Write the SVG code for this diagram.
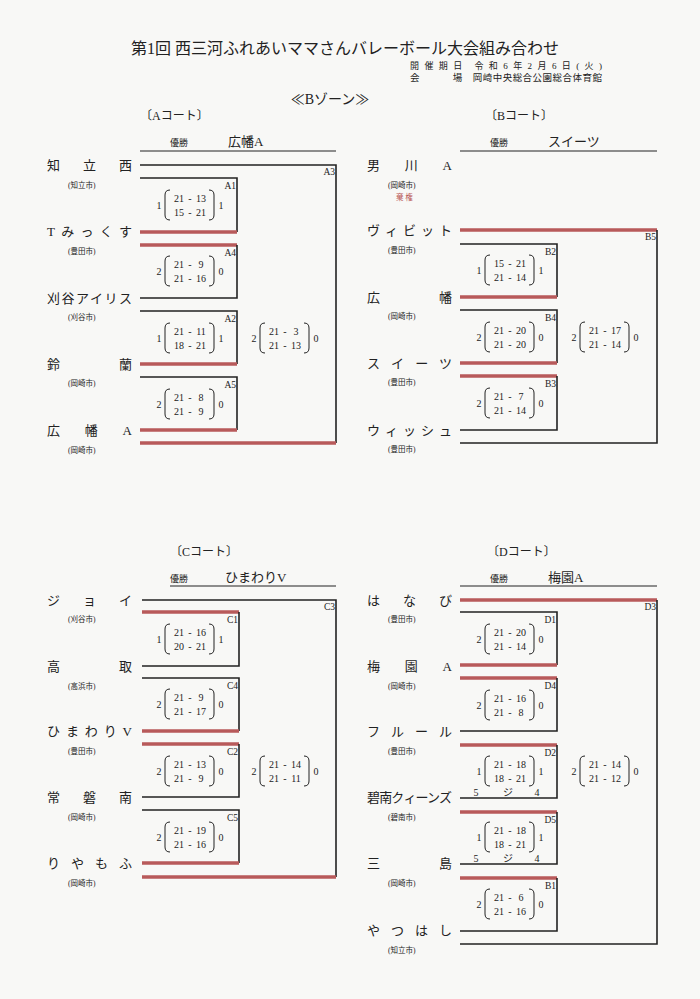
<svg xmlns="http://www.w3.org/2000/svg" width="700" height="999" viewBox="0 0 700 999">
<style>
text{font-family:"Liberation Serif","Noto Sans CJK JP",serif;fill:#222}
.nm{font-size:13px}
.ct{font-size:7.5px}
.sc{font-size:10px;text-anchor:middle}
.ml{font-size:9.5px;text-anchor:end}
.k{stroke:#222;stroke-width:1.6;fill:none}
.r{stroke:#b85a5a;stroke-width:3.5;fill:none}
.p{stroke:#222;stroke-width:1;fill:none}
</style>
<rect width="700" height="999" fill="#f8f8f6"/>
<g id="header">
<text x="345" y="54" font-size="16" text-anchor="middle">第1回  西三河ふれあいママさんバレーボール大会組み合わせ</text>
<text x="410" y="69" font-size="9" textLength="192">開 催 期 日　令 和 6 年 2 月 6 日 ( 火 )</text>
<text x="410" y="81" font-size="9.5" textLength="192">会　　　 場　岡崎中央総合公園総合体育館</text>
<text x="330" y="104" font-size="14" text-anchor="middle">≪Bゾーン≫</text>
<text x="140" y="120" font-size="12">〔Aコート〕</text>
<text x="170" y="146" font-size="9">優勝</text><text x="228" y="146" font-size="13">広幡A</text>
<line x1="140" y1="151" x2="336" y2="151" class="p"/>
<text x="485" y="120" font-size="12">〔Bコート〕</text>
<text x="490" y="146" font-size="9">優勝</text><text x="548" y="146" font-size="13">スイーツ</text>
<line x1="460" y1="151" x2="657" y2="151" class="p"/>
<text x="170" y="556" font-size="12">〔Cコート〕</text>
<text x="170" y="582" font-size="9">優勝</text><text x="225" y="582" font-size="13">ひまわりV</text>
<line x1="170" y1="586" x2="336" y2="586" class="p"/>
<text x="487" y="556" font-size="12">〔Dコート〕</text>
<text x="490" y="582" font-size="9">優勝</text><text x="548" y="582" font-size="13">梅園A</text>
<line x1="460" y1="586" x2="657" y2="586" class="p"/>
</g>
<g id="names">
<text class="nm" x="47" y="170" textLength="85">知立西</text><text class="ct" x="68" y="188">(知立市)</text>
<text class="nm" x="47" y="236" textLength="85">Tみっくす</text><text class="ct" x="68" y="254">(豊田市)</text>
<text class="nm" x="47" y="303" textLength="85">刈谷アイリス</text><text class="ct" x="68" y="320">(刈谷市)</text>
<text class="nm" x="47" y="369" textLength="85">鈴　蘭</text><text class="ct" x="68" y="386">(岡崎市)</text>
<text class="nm" x="47" y="435" textLength="85">広幡A</text><text class="ct" x="68" y="453">(岡崎市)</text>
<text class="nm" x="367" y="170" textLength="85">男川A</text><text class="ct" x="388" y="188">(岡崎市)</text><text x="396" y="200" font-size="7.5" style="fill:#b85a5a">棄 権</text>
<text class="nm" x="367" y="235" textLength="85">ヴィビット</text><text class="ct" x="388" y="253">(豊田市)</text>
<text class="nm" x="367" y="302" textLength="85">広　幡</text><text class="ct" x="388" y="319">(岡崎市)</text>
<text class="nm" x="367" y="368" textLength="85">スイーツ</text><text class="ct" x="388" y="385">(豊田市)</text>
<text class="nm" x="367" y="435" textLength="85">ウィッシュ</text><text class="ct" x="388" y="452">(豊田市)</text>
<text class="nm" x="47" y="605" textLength="85">ジョイ</text><text class="ct" x="68" y="622">(刈谷市)</text>
<text class="nm" x="47" y="671" textLength="85">高　取</text><text class="ct" x="68" y="689">(高浜市)</text>
<text class="nm" x="47" y="736" textLength="85">ひまわりV</text><text class="ct" x="68" y="754">(豊田市)</text>
<text class="nm" x="47" y="802" textLength="85">常磐南</text><text class="ct" x="68" y="820">(岡崎市)</text>
<text class="nm" x="47" y="868" textLength="85">りやもふ</text><text class="ct" x="68" y="886">(岡崎市)</text>
<text class="nm" x="367" y="605" textLength="85">はなび</text><text class="ct" x="388" y="622">(豊田市)</text>
<text class="nm" x="367" y="671" textLength="85">梅　園　A</text><text class="ct" x="388" y="689">(岡崎市)</text>
<text class="nm" x="367" y="736" textLength="85">フルール</text><text class="ct" x="388" y="754">(豊田市)</text>
<text class="nm" x="367" y="802" textLength="85">碧南クィーンズ</text><text class="ct" x="388" y="820">(碧南市)</text>
<text class="nm" x="367" y="868" textLength="85">三　　島</text><text class="ct" x="388" y="886">(岡崎市)</text>
<text class="nm" x="367" y="935" textLength="85">やつはし</text><text class="ct" x="388" y="953">(知立市)</text>
</g>
<g id="connectors">
<path class="k" d="M140 165H336V443"/><path class="r" d="M140 443H336"/>
<path class="k" d="M140 178H237V232"/><path class="r" d="M140 232H237"/>
<path class="r" d="M140 245H237"/><path class="k" d="M237 245V298H140"/>
<path class="k" d="M140 311H237V364"/><path class="r" d="M140 364H237"/>
<path class="k" d="M140 377H237V430"/><path class="r" d="M140 430H237"/>
<path class="r" d="M460 230H657"/><path class="k" d="M657 230V443H460"/>
<path class="k" d="M460 244H557V297"/><path class="r" d="M460 297H557"/>
<path class="k" d="M460 310H557V363"/><path class="r" d="M460 363H557"/>
<path class="r" d="M460 376H557"/><path class="k" d="M557 376V430H460"/>
<path class="k" d="M142 600H336V877"/><path class="r" d="M142 877H336"/>
<path class="r" d="M142 612H239"/><path class="k" d="M239 612V666H142"/>
<path class="k" d="M142 678H239V731"/><path class="r" d="M142 731H239"/>
<path class="r" d="M142 744H239"/><path class="k" d="M239 744V797H142"/>
<path class="k" d="M142 810H239V863"/><path class="r" d="M142 863H239"/>
<path class="r" d="M460 600H657"/><path class="k" d="M657 600V944H460"/>
<path class="k" d="M460 612H557V665"/><path class="r" d="M460 665H557"/>
<path class="r" d="M460 678H557"/><path class="k" d="M557 678V731H460"/>
<path class="r" d="M460 745H557"/><path class="k" d="M557 745V798H460"/>
<path class="r" d="M460 812H557"/><path class="k" d="M557 812V864H460"/>
<path class="r" d="M460 878H557"/><path class="k" d="M557 878V931H460"/>
</g>
<g id="labels">
<text class="ml" x="335" y="175">A3</text><text class="ml" x="236" y="189">A1</text><text class="ml" x="236" y="256">A4</text><text class="ml" x="236" y="322">A2</text><text class="ml" x="236" y="388">A5</text>
<text class="ml" x="656" y="240">B5</text><text class="ml" x="556" y="255">B2</text><text class="ml" x="556" y="321">B4</text><text class="ml" x="556" y="387">B3</text>
<text class="ml" x="335" y="610">C3</text><text class="ml" x="238" y="623">C1</text><text class="ml" x="238" y="689">C4</text><text class="ml" x="238" y="755">C2</text><text class="ml" x="238" y="821">C5</text>
<text class="ml" x="656" y="610">D3</text><text class="ml" x="556" y="623">D1</text><text class="ml" x="556" y="689">D4</text><text class="ml" x="556" y="756">D2</text><text class="ml" x="556" y="823">D5</text><text class="ml" x="556" y="889">B1</text>
<g font-size="7" class="sc"><text x="476" y="796">5</text><text x="508" y="796">ジ</text><text x="537" y="796">4</text><text x="476" y="862">5</text><text x="508" y="862">ジ</text><text x="537" y="862">4</text></g>
</g>
<defs>
<g id="pr"><path class="p" d="M-20 -15q-5 0 -5 5v20q0 5 5 5M19 -15q5 0 5 5v20q0 5 -5 5"/></g>
</defs>
<g id="scores">
<g transform="translate(190,205)"><use href="#pr"/><g class="sc"><text x="-31" y="4">1</text><text x="31" y="4">1</text><text x="-11" y="-3">21</text><text x="0" y="-3">-</text><text x="11" y="-3">13</text><text x="-11" y="11">15</text><text x="0" y="11">-</text><text x="11" y="11">21</text></g></g>
<g transform="translate(190,271)"><use href="#pr"/><g class="sc"><text x="-31" y="4">2</text><text x="31" y="4">0</text><text x="-11" y="-3">21</text><text x="0" y="-3">-</text><text x="11" y="-3">9</text><text x="-11" y="11">21</text><text x="0" y="11">-</text><text x="11" y="11">16</text></g></g>
<g transform="translate(190,338)"><use href="#pr"/><g class="sc"><text x="-31" y="4">1</text><text x="31" y="4">1</text><text x="-11" y="-3">21</text><text x="0" y="-3">-</text><text x="11" y="-3">11</text><text x="-11" y="11">18</text><text x="0" y="11">-</text><text x="11" y="11">21</text></g></g>
<g transform="translate(190,404)"><use href="#pr"/><g class="sc"><text x="-31" y="4">2</text><text x="31" y="4">0</text><text x="-11" y="-3">21</text><text x="0" y="-3">-</text><text x="11" y="-3">8</text><text x="-11" y="11">21</text><text x="0" y="11">-</text><text x="11" y="11">9</text></g></g>
<g transform="translate(285,338)"><use href="#pr"/><g class="sc"><text x="-31" y="4">2</text><text x="31" y="4">0</text><text x="-11" y="-3">21</text><text x="0" y="-3">-</text><text x="11" y="-3">3</text><text x="-11" y="11">21</text><text x="0" y="11">-</text><text x="11" y="11">13</text></g></g>
<g transform="translate(510,270)"><use href="#pr"/><g class="sc"><text x="-31" y="4">1</text><text x="31" y="4">1</text><text x="-11" y="-3">15</text><text x="0" y="-3">-</text><text x="11" y="-3">21</text><text x="-11" y="11">21</text><text x="0" y="11">-</text><text x="11" y="11">14</text></g></g>
<g transform="translate(510,337)"><use href="#pr"/><g class="sc"><text x="-31" y="4">2</text><text x="31" y="4">0</text><text x="-11" y="-3">21</text><text x="0" y="-3">-</text><text x="11" y="-3">20</text><text x="-11" y="11">21</text><text x="0" y="11">-</text><text x="11" y="11">20</text></g></g>
<g transform="translate(510,403)"><use href="#pr"/><g class="sc"><text x="-31" y="4">2</text><text x="31" y="4">0</text><text x="-11" y="-3">21</text><text x="0" y="-3">-</text><text x="11" y="-3">7</text><text x="-11" y="11">21</text><text x="0" y="11">-</text><text x="11" y="11">14</text></g></g>
<g transform="translate(605,337)"><use href="#pr"/><g class="sc"><text x="-31" y="4">2</text><text x="31" y="4">0</text><text x="-11" y="-3">21</text><text x="0" y="-3">-</text><text x="11" y="-3">17</text><text x="-11" y="11">21</text><text x="0" y="11">-</text><text x="11" y="11">14</text></g></g>
<g transform="translate(190,639)"><use href="#pr"/><g class="sc"><text x="-31" y="4">1</text><text x="31" y="4">1</text><text x="-11" y="-3">21</text><text x="0" y="-3">-</text><text x="11" y="-3">16</text><text x="-11" y="11">20</text><text x="0" y="11">-</text><text x="11" y="11">21</text></g></g>
<g transform="translate(190,704)"><use href="#pr"/><g class="sc"><text x="-31" y="4">2</text><text x="31" y="4">0</text><text x="-11" y="-3">21</text><text x="0" y="-3">-</text><text x="11" y="-3">9</text><text x="-11" y="11">21</text><text x="0" y="11">-</text><text x="11" y="11">17</text></g></g>
<g transform="translate(190,771)"><use href="#pr"/><g class="sc"><text x="-31" y="4">2</text><text x="31" y="4">0</text><text x="-11" y="-3">21</text><text x="0" y="-3">-</text><text x="11" y="-3">13</text><text x="-11" y="11">21</text><text x="0" y="11">-</text><text x="11" y="11">9</text></g></g>
<g transform="translate(190,837)"><use href="#pr"/><g class="sc"><text x="-31" y="4">2</text><text x="31" y="4">0</text><text x="-11" y="-3">21</text><text x="0" y="-3">-</text><text x="11" y="-3">19</text><text x="-11" y="11">21</text><text x="0" y="11">-</text><text x="11" y="11">16</text></g></g>
<g transform="translate(285,771)"><use href="#pr"/><g class="sc"><text x="-31" y="4">2</text><text x="31" y="4">0</text><text x="-11" y="-3">21</text><text x="0" y="-3">-</text><text x="11" y="-3">14</text><text x="-11" y="11">21</text><text x="0" y="11">-</text><text x="11" y="11">11</text></g></g>
<g transform="translate(510,639)"><use href="#pr"/><g class="sc"><text x="-31" y="4">2</text><text x="31" y="4">0</text><text x="-11" y="-3">21</text><text x="0" y="-3">-</text><text x="11" y="-3">20</text><text x="-11" y="11">21</text><text x="0" y="11">-</text><text x="11" y="11">14</text></g></g>
<g transform="translate(510,705)"><use href="#pr"/><g class="sc"><text x="-31" y="4">2</text><text x="31" y="4">0</text><text x="-11" y="-3">21</text><text x="0" y="-3">-</text><text x="11" y="-3">16</text><text x="-11" y="11">21</text><text x="0" y="11">-</text><text x="11" y="11">8</text></g></g>
<g transform="translate(510,771)"><use href="#pr"/><g class="sc"><text x="-31" y="4">1</text><text x="31" y="4">1</text><text x="-11" y="-3">21</text><text x="0" y="-3">-</text><text x="11" y="-3">18</text><text x="-11" y="11">18</text><text x="0" y="11">-</text><text x="11" y="11">21</text></g></g>
<g transform="translate(510,837)"><use href="#pr"/><g class="sc"><text x="-31" y="4">1</text><text x="31" y="4">1</text><text x="-11" y="-3">21</text><text x="0" y="-3">-</text><text x="11" y="-3">18</text><text x="-11" y="11">18</text><text x="0" y="11">-</text><text x="11" y="11">21</text></g></g>
<g transform="translate(510,904)"><use href="#pr"/><g class="sc"><text x="-31" y="4">2</text><text x="31" y="4">0</text><text x="-11" y="-3">21</text><text x="0" y="-3">-</text><text x="11" y="-3">6</text><text x="-11" y="11">21</text><text x="0" y="11">-</text><text x="11" y="11">16</text></g></g>
<g transform="translate(605,771)"><use href="#pr"/><g class="sc"><text x="-31" y="4">2</text><text x="31" y="4">0</text><text x="-11" y="-3">21</text><text x="0" y="-3">-</text><text x="11" y="-3">14</text><text x="-11" y="11">21</text><text x="0" y="11">-</text><text x="11" y="11">12</text></g></g>
</g>
</svg>
